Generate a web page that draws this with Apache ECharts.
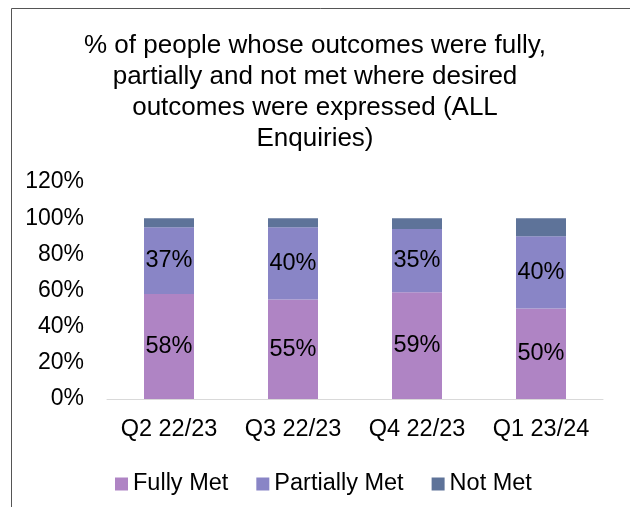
<!DOCTYPE html>
<html lang="en" style="height: 100%">
<head>
    <meta charset="utf-8">
    <title>Outcomes met</title>
    <script src="https://cdn.jsdelivr.net/npm/echarts@6/dist/echarts.min.js"></script>
</head>
<body style="height: 100%; margin: 0; background: #fff">
    <div id="main" style="width: 630px; height: 507px"></div>
    <script>
        // 数据
        const quarters = ['Q2 22/23', 'Q3 22/23', 'Q4 22/23', 'Q1 23/24'];
        const fullyMet = [58, 55, 59, 50];
        const partiallyMet = [37, 40, 35, 40];
        const notMet = [5, 5, 6, 10];
        const yTicks = [0, 20, 40, 60, 80, 100, 120];

        const font = 'Arial, "Liberation Sans", sans-serif';
        const chart = echarts.init(document.getElementById('main'), null, { renderer: 'canvas' });

        function labelCfg(show) {
            return {
                show: show,
                position: 'inside',
                formatter: p => p.value + '%',
                color: '#000',
                fontSize: 23.5,
                fontFamily: font
            };
        }

        chart.setOption({
            animation: false,
            textStyle: { fontFamily: font },
            title: {
                text: '% of people whose outcomes were fully,\npartially and not met where desired\noutcomes were expressed (ALL\nEnquiries)',
                left: 'center',
                top: 25,
                textStyle: {
                    fontSize: 26,
                    lineHeight: 31,
                    fontWeight: 'normal',
                    color: '#000',
                    fontFamily: font
                }
            },
            legend: {
                bottom: 6,
                left: 110,
                itemWidth: 13,
                itemHeight: 13,
                itemGap: 28,
                icon: 'rect',
                textStyle: { fontSize: 23.5, color: '#000', fontFamily: font },
                data: ['Fully Met', 'Partially Met', 'Not Met']
            },
            grid: { left: 107, right: 27, top: 182, bottom: 108 },
            xAxis: {
                type: 'category',
                data: quarters,
                axisLine: { lineStyle: { color: '#d9d9d9', width: 1 } },
                axisTick: { show: false },
                axisLabel: { interval: 0, color: '#000', fontSize: 23.5, margin: 19, fontFamily: font }
            },
            yAxis: {
                type: 'value',
                min: yTicks[0],
                max: yTicks[yTicks.length - 1],
                interval: 20,
                splitLine: { show: false },
                axisLine: { show: false },
                axisLabel: { color: '#000', fontSize: 23, margin: 23, formatter: '{value}%', fontFamily: font }
            },
            series: [
                { name: 'Fully Met', type: 'bar', stack: 'all', barWidth: 50, data: fullyMet,
                  itemStyle: { color: '#af84c4' }, label: labelCfg(true) },
                { name: 'Partially Met', type: 'bar', stack: 'all', data: partiallyMet,
                  itemStyle: { color: '#8985c6' }, label: labelCfg(true) },
                { name: 'Not Met', type: 'bar', stack: 'all', data: notMet,
                  itemStyle: { color: '#5e7399' }, label: labelCfg(false) }
            ],
            graphic: [{
                type: 'polyline',
                shape: { points: [[11.5, 507], [11.5, 8.5], [630, 8.5]] },
                style: { stroke: '#555', lineWidth: 1, fill: null }
            }]
        });
    </script>
</body>
</html>
